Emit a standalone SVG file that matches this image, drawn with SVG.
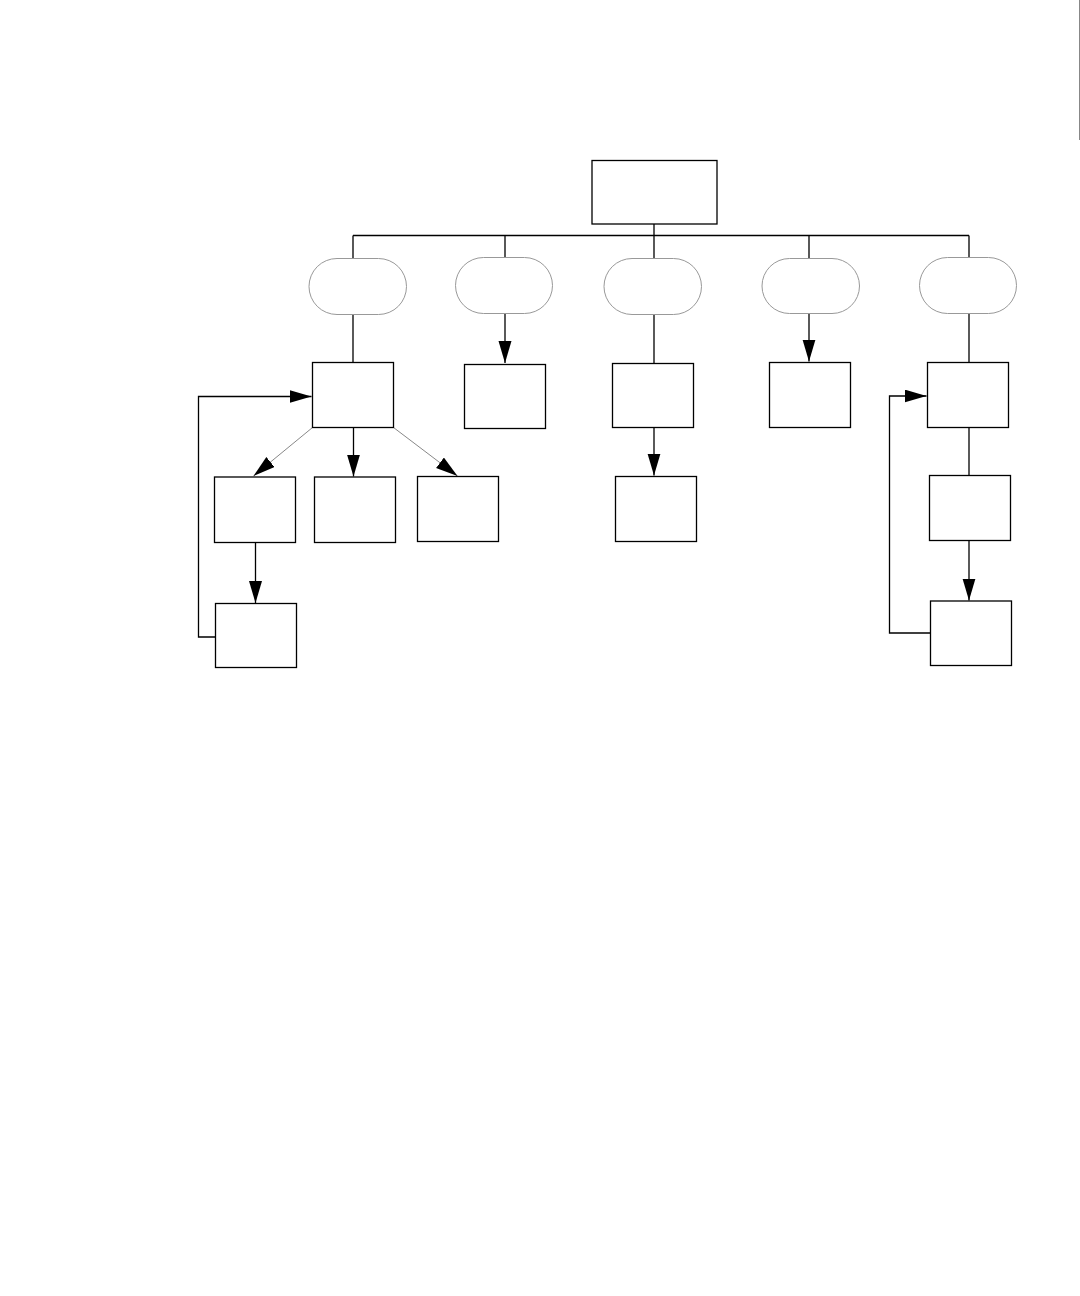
<svg xmlns="http://www.w3.org/2000/svg" width="1080" height="1296" viewBox="0 0 1080 1296">
<style>
.box{fill:#fff;stroke:#000;stroke-width:1.3}
.oval{fill:#fff;stroke:#999;stroke-width:1}
.ln{fill:none;stroke:#000;stroke-width:1.3}
.thin{fill:none;stroke:#888;stroke-width:1}
</style>
<defs>
<marker id="ah" markerUnits="userSpaceOnUse" markerWidth="24" markerHeight="14" refX="22" refY="6.5" orient="auto">
<path d="M0,0 L22,6.5 L0,13 Z" fill="#000"/>
</marker>
</defs>
<rect width="1080" height="1296" fill="#fff"/>
<g id="connectors">
<path class="ln" d="M654,224 V235.5 M353,235.5 H969 M353,235.5 V258 M505,235.5 V258 M654,235.5 V258 M809,235.5 V258 M969,235.5 V258"/>
<path class="ln" d="M353,314 V362"/>
<path class="ln" d="M505,314 V363" marker-end="url(#ah)"/>
<path class="ln" d="M654,314 V363"/>
<path class="ln" d="M654,427 V475.5" marker-end="url(#ah)"/>
<path class="ln" d="M809,313 V361.5" marker-end="url(#ah)"/>
<path class="ln" d="M969,313 V362"/>
<path class="ln" d="M969,427 V475"/>
<path class="ln" d="M969,541 V600.5" marker-end="url(#ah)"/>
<path class="ln" d="M930.5,633 H889.5 V396 H926.5" marker-end="url(#ah)"/>
<path class="thin" d="M312.5,427.5 L253.5,476" marker-end="url(#ah)"/>
<path class="ln" d="M353.5,427.5 V476.5" marker-end="url(#ah)"/>
<path class="thin" d="M393.5,427.5 L457.5,476" marker-end="url(#ah)"/>
<path class="ln" d="M255.5,542 V603" marker-end="url(#ah)"/>
<path class="ln" d="M215,637 H198.5 V396.5 H311.5" marker-end="url(#ah)"/>
<path class="thin" d="M1079.5,0 V140"/>
</g>
<g id="root"><rect class="box" x="592" y="160.5" width="125" height="63.5"/></g>
<g id="oval1"><rect class="oval" x="309" y="258.5" width="97.5" height="56" rx="28"/></g>
<g id="oval2"><rect class="oval" x="455.5" y="257.5" width="97" height="56" rx="28"/></g>
<g id="oval3"><rect class="oval" x="604" y="258.5" width="97.5" height="56" rx="28"/></g>
<g id="oval4"><rect class="oval" x="762" y="258.5" width="97.5" height="55" rx="27.5"/></g>
<g id="oval5"><rect class="oval" x="919.5" y="257.5" width="97" height="56" rx="28"/></g>
<g id="boxA"><rect class="box" x="312.5" y="362.5" width="81" height="65"/></g>
<g id="boxB"><rect class="box" x="464.5" y="364.5" width="81" height="64"/></g>
<g id="boxC"><rect class="box" x="612.5" y="363.5" width="81" height="64"/></g>
<g id="boxD"><rect class="box" x="769.5" y="362.5" width="81" height="65"/></g>
<g id="boxE1"><rect class="box" x="927.5" y="362.5" width="81" height="65"/></g>
<g id="boxA1"><rect class="box" x="214.5" y="477" width="81" height="65.5"/></g>
<g id="boxA2"><rect class="box" x="314.5" y="477" width="81" height="65.5"/></g>
<g id="boxA3"><rect class="box" x="417.5" y="476.5" width="81" height="65"/></g>
<g id="boxC1"><rect class="box" x="615.5" y="476.5" width="81" height="65"/></g>
<g id="boxE2"><rect class="box" x="929.5" y="475.5" width="81" height="65"/></g>
<g id="boxA4"><rect class="box" x="215.5" y="603.5" width="81" height="64"/></g>
<g id="boxE3"><rect class="box" x="930.5" y="601" width="81" height="64.5"/></g>
</svg>
